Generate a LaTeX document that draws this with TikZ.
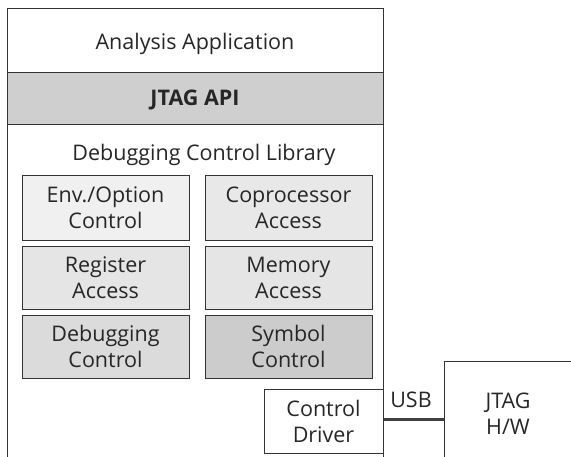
\documentclass[tikz,border=0pt]{standalone}
\usepackage{fontspec}
\setmainfont{Open Sans}
\begin{document}
\begin{tikzpicture}[x=1pt,y=-1pt,
  every node/.style={font=\fontsize{21.5}{26}\selectfont, text=black!85},
  frame/.style={draw=black!80, line width=1pt},
  module/.style={frame, align=center, inner sep=0pt, text depth=-2pt},
  lbl/.style={align=center, inner sep=0pt}]
\useasboundingbox (0,0) rectangle (571,456);
% host software stack
\draw[frame, fill=white] (7,460) -- (7,8) -- (383,8) -- (383,460);
\draw[frame, fill=black!19] (7,72) rectangle (383,124);
\node[lbl] (app) at (195,43.5) {Analysis Application};
\node[lbl, font=\fontsize{21.5}{26}\selectfont\bfseries] (api) at (195,100) {JTAG API};
\node[lbl] (lib) at (204,154.5) {Debugging Control Library};
% library modules
\node[module, fill=black!6, minimum width=167pt, minimum height=65pt] (env) at (105.5,207.5) {Env./Option\\Control};
\node[module, fill=black!9, minimum width=167pt, minimum height=65pt] (cop) at (288.5,207.5) {Coprocessor\\Access};
\node[module, fill=black!10, minimum width=167pt, minimum height=63pt] (reg) at (105.5,277.5) {Register\\Access};
\node[module, fill=black!10, minimum width=167pt, minimum height=63pt] (mem) at (288.5,277.5) {Memory\\Access};
\node[module, fill=black!14, minimum width=167pt, minimum height=63pt] (dbg) at (105.5,346.5) {Debugging\\Control};
\node[module, fill=black!20, minimum width=167pt, minimum height=63pt] (sym) at (288.5,346.5) {Symbol\\Control};
% driver and hardware
\node[module, fill=white, minimum width=119pt, minimum height=64pt] (drv) at (323.5,421.5) {Control\\Driver};
\draw[frame, fill=white] (444,470) -- (444,361) -- (580,361);
\node[lbl] (hw) at (508,413.5) {JTAG\\H/W};
\coordinate (hwl) at (444,419);
\draw[black!75, line width=3pt] (drv.east |- hwl) -- (hwl);
\node[lbl] (usb) at (411,400) {USB};
\end{tikzpicture}
\end{document}
